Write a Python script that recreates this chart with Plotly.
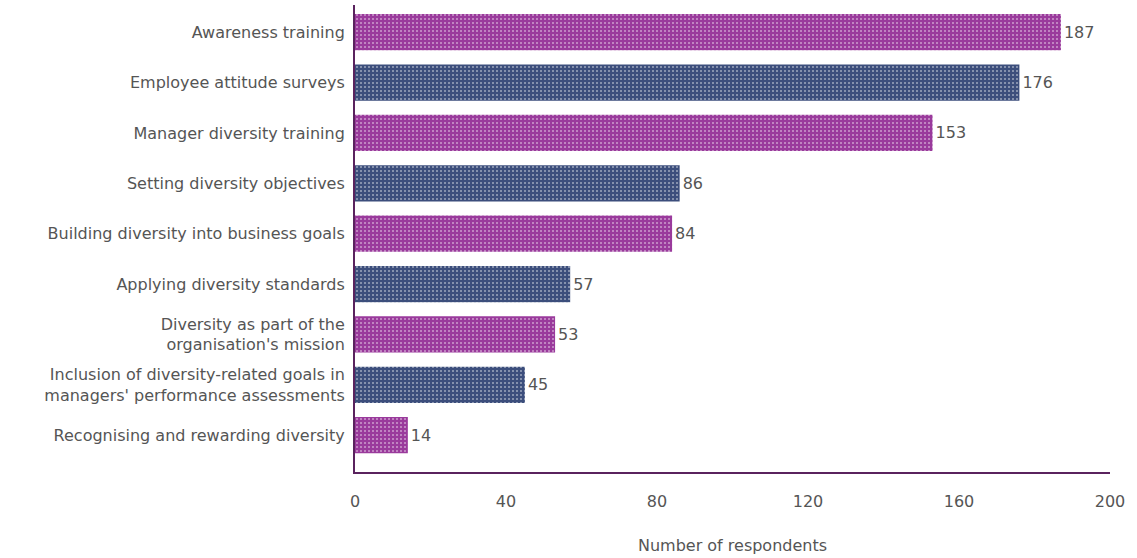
import plotly.graph_objects as go

categories = [
    "Awareness training",
    "Employee attitude surveys",
    "Manager diversity training",
    "Setting diversity objectives",
    "Building diversity into business goals",
    "Applying diversity standards",
    "Diversity as part of the<br>organisation's mission",
    "Inclusion of diversity-related goals in<br>managers' performance assessments",
    "Recognising and rewarding diversity",
]
respondents = [187, 176, 153, 86, 84, 57, 53, 45, 14]
x_ticks = [0, 40, 80, 120, 160, 200]

PURPLE = "#9a3a9c"
BLUE = "#3c4e7c"
bar_colors = [PURPLE if i % 2 == 0 else BLUE for i in range(len(categories))]
dot_colors = ["#7e2c80" if i % 2 == 0 else "#2e3d64" for i in range(len(categories))]

TEXT = "#555555"
FONT = "DejaVu Sans"

fig = go.Figure(
    go.Bar(
        x=respondents,
        y=categories,
        orientation="h",
        width=0.72,
        marker=dict(
            color=bar_colors,
            line=dict(width=0),
            pattern=dict(
                shape=".",
                fgcolor=dot_colors,
                bgcolor=bar_colors,
                size=4,
                solidity=0.2,
            ),
        ),
        text=[str(v) for v in respondents],
        textposition="outside",
        textfont=dict(color=TEXT, size=16, family=FONT),
        cliponaxis=False,
    )
)

fig.update_layout(
    width=1137,
    height=558,
    margin=dict(l=355, r=27, t=5, b=86),
    paper_bgcolor="white",
    plot_bgcolor="white",
    font=dict(family=FONT, color=TEXT, size=15),
    showlegend=False,
)

fig.update_xaxes(
    range=[0, 200],
    tickvals=x_ticks,
    ticktext=[str(t) for t in x_ticks],
    showgrid=False,
    zeroline=False,
    showline=True,
    linecolor="#5a235e",
    linewidth=2,
    ticks="",
    ticklabelstandoff=14,
    tickfont=dict(size=16, color=TEXT, family=FONT),
    title=dict(text="Number of respondents", font=dict(size=16, color=TEXT, family=FONT), standoff=30),
)

fig.update_yaxes(
    categoryorder="array",
    categoryarray=categories,
    autorange=False,
    range=[len(categories) - 1 + 0.73, -0.54],
    showgrid=False,
    zeroline=False,
    showline=True,
    linecolor="#5a235e",
    linewidth=2,
    ticks="",
    ticklabelstandoff=5,
    tickfont=dict(size=16, color=TEXT, family=FONT),
)

fig.write_html("out.html")
